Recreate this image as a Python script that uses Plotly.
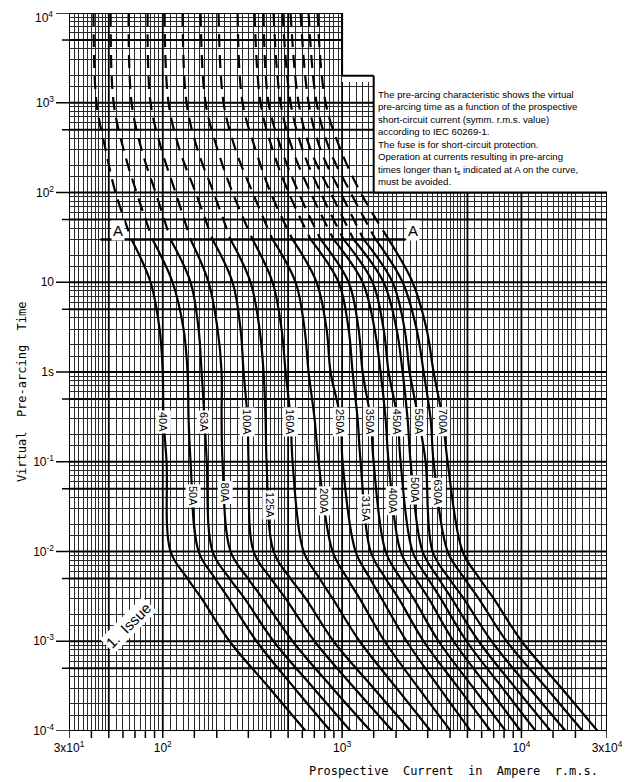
import numpy as np
import plotly.graph_objects as go

# ---------------- data ----------------
T_LEVELS = [1e4, 1e3, 300, 100, 30, 10, 3, 1, 0.3, 0.1, 0.01, 5e-3, 3e-3, 1e-3, 3e-4, 1e-4]   # seconds
RATINGS = ["40A", "50A", "63A", "80A", "100A", "125A", "160A", "200A", "250A",
           "315A", "350A", "400A", "450A", "500A", "550A", "630A", "700A"]
I_40A  = [41.1, 42.7, 48.0, 54.5, 67.0, 85.5, 96.0, 100, 101, 105, 110.5, 137.5, 164.6, 235.8, 394, 626]
I_50A  = [51.2, 53.2, 60.5, 71.4, 87.7, 113.4, 130.6, 137.5, 139.3, 142.9, 158.4, 195.7, 232.8, 333.5, 543, 862]
I_63A  = [64.5, 67.0, 76.2, 91.2, 110.5, 142.9, 158.4, 164.6, 171.0, 175.9, 189.5, 235.8, 285.9, 414.8, 693, 1115]
I_80A  = [82.3, 85.5, 98.5, 117.9, 142.9, 180.0, 202.1, 212.8, 212.8, 215.5, 238.8, 299, 360.2, 529.5, 884.9, 1442]
I_100A = [102.3, 107.7, 124.1, 152.4, 189.5, 245.0, 271.5, 282.2, 297.1, 300.9, 320.9, 401.2, 484, 702, 1174, 1912]
I_125A = [128.9, 135.7, 156.3, 192.0, 238.8, 308.7, 346.6, 364.8, 374.3, 379.2, 414.8, 516, 626, 896, 1498, 2410]
I_160A = [162.5, 173.2, 202.1, 245.0, 316.8, 409.5, 459.7, 484, 516, 529.5, 609.8, 748.8, 884.9, 1252, 2013, 3115]
I_200A = [204.7, 218.3, 254.7, 316.8, 409.5, 550.3, 617.7, 650.2, 702.3, 739.3, 884.9, 1070, 1252, 1726, 2671, 4028]
I_250A = [261.3, 278.6, 329.2, 399.2, 529.5, 720.6, 819.3, 862, 980.6, 1006, 1189, 1431, 1661, 2289, 3497, 5207]
I_315A = [325, 351, 409.5, 503, 667, 955.8, 1087, 1144, 1220, 1268, 1442, 1748, 2066, 2848, 4464, 6731]
I_350A = [364.8, 389, 459.7, 571.9, 758.5, 1087, 1236, 1301, 1442, 1498, 1748, 2119, 2504, 3453, 5411, 8162]
I_400A = [414.8, 453.8, 529.5, 667, 896.3, 1301, 1518, 1639, 1748, 1817, 2119, 2570, 3037, 4186, 6561, 9895]
I_450A = [465.7, 516, 602, 758.5, 1019, 1479, 1704, 1817, 2039, 2119, 2472, 3013, 3542, 4946, 7853, 12000]
I_500A = [516, 571.9, 667, 862, 1159, 1704, 2013, 2175, 2319, 2410, 2811, 3453, 4080, 5771, 9280, 14550]
I_550A = [586.7, 650.2, 758.5, 980.6, 1318, 1912, 2231, 2379, 2671, 2922, 3196, 3956, 4759, 6818, 11110, 17640]
I_630A = [650.2, 720.6, 851.4, 1115, 1538, 2175, 2603, 2848, 3115, 3238, 3876, 4821, 5771, 8267, 13820, 21940]
I_700A = [729.9, 808.8, 980.6, 1268, 1817, 2472, 2960, 3238, 3634, 3876, 4699, 5845, 6996, 10030, 16760, 26600]
CURVES = [I_40A, I_50A, I_63A, I_80A, I_100A, I_125A, I_160A, I_200A, I_250A,
          I_315A, I_350A, I_400A, I_450A, I_500A, I_550A, I_630A, I_700A]

A_TIME = 30                       # time t_s marked "A"
A_LINE_CURRENTS = [45, 2260]      # extent of the A line
LABEL_T = [0.28, 0.042, 0.28, 0.045, 0.28, 0.033, 0.28, 0.037, 0.28,
           0.03, 0.28, 0.037, 0.28, 0.048, 0.28, 0.045, 0.28]

X_TICKVALS = [30, 100, 1000, 10000, 30000]
X_TICKTEXT = ["3x10<sup>1</sup>", "10<sup>2</sup>", "10<sup>3</sup>", "10<sup>4</sup>", "3x10<sup>4</sup>"]
Y_TICKVALS = [1e3, 1e2, 10, 1, 0.1, 0.01, 1e-3, 1e-4]
Y_TICKTEXT = ["10<sup>3</sup>", "10<sup>2</sup>", "10", "1s",
              "10<sup>-1</sup>", "10<sup>-2</sup>", "10<sup>-3</sup>", "10<sup>-4</sup>"]
Y_TOP_LABEL = "10<sup>4</sup>"

NOTE = ("The pre-arcing characteristic shows the virtual<br>"
        "pre-arcing time as a function of the prospective<br>"
        "short-circuit current (symm. r.m.s. value)<br>"
        "according to IEC 60269-1.<br>"
        "The fuse is for short-circuit protection.<br>"
        "Operation at currents resulting in pre-arcing<br>"
        "times longer than t<sub>s</sub> indicated at A on the curve,<br>"
        "must be avoided.")

# ---------------- grid definitions (style) ----------------
XMIN, XMAX = 30, 30000
YMIN, YMAX = 1e-4, 1e4
mant_x = list(np.round(np.arange(1.0, 2.0, 0.1), 2)) + list(np.round(np.arange(2.0, 5.0, 0.2), 2)) + \
         list(np.round(np.arange(5.0, 10.0, 0.5), 2))
x_grid = sorted({round(m * 10 ** d, 6) for d in range(1, 5) for m in mant_x if XMIN <= m * 10 ** d <= XMAX})
mant_y = [1, 1.5, 2, 3, 4, 5, 6, 7, 8, 9]
y_grid = sorted({m * 10.0 ** d for d in range(-4, 4) for m in mant_y} | {1e4})
x_minor_ticks = [m * 10 ** d for d in range(1, 5) for m in [1, 1.5, 2, 3, 4, 5, 6, 7, 8, 9]
                 if XMIN <= m * 10 ** d <= XMAX]
x_thick = [50, 100, 500, 1000, 5000, 10000]
y_thick = [m * 10.0 ** d for d in range(-4, 4) for m in [1, 5]] + [1e4]
y_decades = [10.0 ** d for d in range(-4, 5)]

fig = go.Figure()

t = np.array(T_LEVELS)
for name, cur in zip(RATINGS, CURVES):
    i = np.array(cur, dtype=float)
    up = t >= A_TIME
    lo = t <= A_TIME
    fig.add_trace(go.Scatter(x=i[up], y=t[up], mode="lines",
                             line=dict(color="black", width=2.2, dash="13px,8px", shape="spline", smoothing=1.0),
                             hoverinfo="skip"))
    fig.add_trace(go.Scatter(x=i[lo], y=t[lo], mode="lines",
                             line=dict(color="black", width=2.2, shape="spline", smoothing=1.0),
                             hoverinfo="skip"))

shapes = []
GRID = "#2a2a2a"
for v in x_thick:
    shapes.append(dict(type="line", xref="x", yref="y", x0=v, x1=v, y0=YMIN, y1=YMAX,
                       line=dict(color="black", width=1.8), layer="between"))
for v in y_thick:
    shapes.append(dict(type="line", xref="x", yref="y", x0=XMIN, x1=XMAX, y0=v, y1=v,
                       line=dict(color="black", width=1.8), layer="between"))
shapes.append(dict(type="line", xref="x", yref="y", x0=A_LINE_CURRENTS[0], x1=A_LINE_CURRENTS[1],
                   y0=A_TIME, y1=A_TIME, line=dict(color="black", width=2.6), layer="between"))
shapes.append(dict(type="rect", xref="x", yref="y", x0=1000, x1=XMAX, y0=1700, y1=YMAX,
                   fillcolor="white", line=dict(width=0), layer="between"))
shapes.append(dict(type="rect", xref="x", yref="y", x0=1500, x1=XMAX, y0=100, y1=2100,
                   fillcolor="white", line=dict(width=0), layer="between"))
outline = [(XMIN, YMIN, XMIN, YMAX), (XMIN, YMAX, 1000, YMAX), (1000, YMAX, 1000, 2000),
           (1000, 2000, 1500, 2000), (1500, 2000, 1500, 100), (1500, 100, XMAX, 100),
           (XMAX, 100, XMAX, YMIN), (XMIN, YMIN, XMAX, YMIN)]
for x0, y0, x1, y1 in outline:
    shapes.append(dict(type="line", xref="x", yref="y", x0=x0, x1=x1, y0=y0, y1=y1,
                       line=dict(color="black", width=2), layer="between"))
for v in y_thick:
    ln = 13 if any(abs(v - d) < 1e-12 * max(d, 1) for d in y_decades) else 7
    shapes.append(dict(type="line", xref="paper", xsizemode="pixel", xanchor=0, x0=-ln, x1=0,
                       yref="y", y0=v, y1=v, line=dict(color="black", width=1.5)))
for v in x_minor_ticks:
    shapes.append(dict(type="line", yref="paper", ysizemode="pixel", yanchor=0, y0=-7, y1=0,
                       xref="x", x0=v, x1=v, line=dict(color="black", width=1.5)))

annotations = []
for name, cur, lt in zip(RATINGS, CURVES, LABEL_T):
    li = np.interp(np.log10(lt), np.log10(t[::-1]), np.log10(np.array(cur, dtype=float)[::-1]))
    annotations.append(dict(x=li, y=np.log10(lt), xref="x", yref="y", text=name, textangle=90,
                            showarrow=False, bgcolor="white", borderpad=1,
                            font=dict(family="Liberation Sans", size=11, color="black")))
for ax in [56, 2470]:
    annotations.append(dict(x=np.log10(ax), y=np.log10(38), xref="x", yref="y", text="A",
                            showarrow=False, bgcolor="white", borderpad=1,
                            font=dict(family="Liberation Sans", size=15, color="black")))
annotations.append(dict(x=np.log10(64), y=np.log10(1.5e-3), xref="x", yref="y", text="1.  Issue",
                        textangle=-45, showarrow=False, bgcolor="white", borderpad=1,
                        font=dict(family="Liberation Sans", size=15, color="black")))
annotations.append(dict(x=np.log10(1540), y=np.log10(1500), xref="x", yref="y", text=NOTE,
                        xanchor="left", yanchor="top", align="left", showarrow=False,
                        font=dict(family="Liberation Sans", size=9.6, color="black")))
annotations.append(dict(x=0.714, y=0, xref="paper", yref="paper", yshift=-40,
                        xanchor="center", yanchor="middle",
                        text="Prospective  Current  in  Ampere  r.m.s.", showarrow=False,
                        font=dict(family="DejaVu Sans Mono", size=12, color="black")))
annotations.append(dict(x=0, y=0.472, xref="paper", yref="paper", xshift=-47, textangle=-90,
                        xanchor="center", yanchor="middle",
                        text="Virtual  Pre-arcing  Time", showarrow=False,
                        font=dict(family="DejaVu Sans Mono", size=12, color="black")))
annotations.append(dict(x=0, y=1, xref="paper", yref="paper", xshift=-14, yshift=-4,
                        xanchor="right", yanchor="middle", text=Y_TOP_LABEL, showarrow=False,
                        font=dict(family="Liberation Sans", size=12, color="black")))

# the page adds an 8px body margin; the figure is offset by it so the plot lands where the reference has it
fig.update_layout(width=626, height=774, margin=dict(l=61, r=27, t=5, b=51, autoexpand=False),
                  paper_bgcolor="white", plot_bgcolor="white", showlegend=False,
                  shapes=shapes, annotations=annotations,
                  font=dict(family="Liberation Sans", color="black", size=12))
fig.update_xaxes(type="log", range=[np.log10(XMIN), np.log10(XMAX)], tickmode="array", automargin=False,
                 tickvals=X_TICKVALS, ticktext=X_TICKTEXT, ticks="", ticklabelstandoff=8,
                 ticklabeloverflow="allow",
                 showgrid=True, gridcolor=GRID, gridwidth=1, zeroline=False, showline=False,
                 minor=dict(tickmode="array", tickvals=x_grid, showgrid=True, gridcolor=GRID,
                            gridwidth=1, ticks=""),
                 tickfont=dict(family="Liberation Sans", size=12, color="black"))
fig.update_yaxes(type="log", range=[-4, 4], tickmode="array", tickvals=Y_TICKVALS, automargin=False,
                 ticktext=Y_TICKTEXT, ticks="", ticklabelstandoff=14, ticklabeloverflow="allow",
                 showgrid=True, gridcolor=GRID, gridwidth=1, zeroline=False, showline=False,
                 minor=dict(tickmode="array", tickvals=y_grid, showgrid=True, gridcolor=GRID,
                            gridwidth=1, ticks=""),
                 tickfont=dict(family="Liberation Sans", size=12, color="black"))

fig.write_html("out.html")
